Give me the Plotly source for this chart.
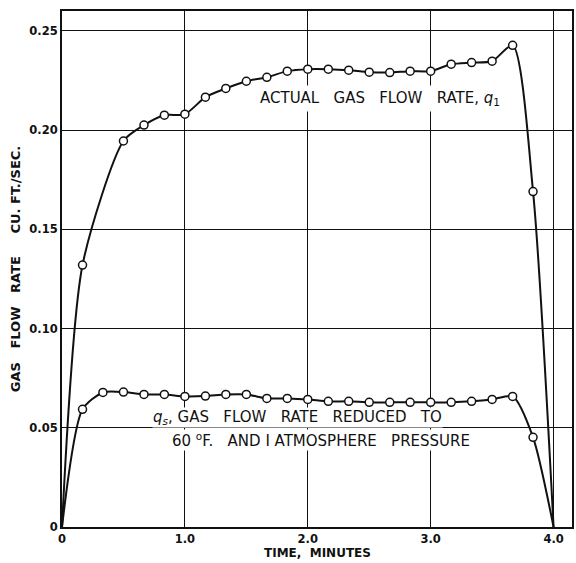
import plotly.graph_objects as go

# Readings taken every 10 seconds (time in minutes)
t_q1 = [0.167, 0.5, 0.667, 0.833, 1.0, 1.167, 1.333, 1.5, 1.667, 1.833, 2.0,
        2.167, 2.333, 2.5, 2.667, 2.833, 3.0, 3.167, 3.333, 3.5, 3.667, 3.833]
q1 = [0.132, 0.1945, 0.2025, 0.2075, 0.208, 0.2166, 0.221, 0.2246, 0.2266, 0.2297, 0.2307,
      0.2307, 0.2302, 0.2292, 0.229, 0.2297, 0.2297, 0.2332, 0.234, 0.2347, 0.2427, 0.169]

t_qs = [0.167, 0.333, 0.5, 0.667, 0.833, 1.0, 1.167, 1.333, 1.5, 1.667, 1.833, 2.0,
        2.167, 2.333, 2.5, 2.667, 2.833, 3.0, 3.167, 3.333, 3.5, 3.667, 3.833]
qs = [0.0593, 0.0678, 0.068, 0.0668, 0.0668, 0.0658, 0.066, 0.0668, 0.0668, 0.0648, 0.0648, 0.0643,
      0.0633, 0.0633, 0.0628, 0.0628, 0.0628, 0.0628, 0.0628, 0.0633, 0.0643, 0.0658, 0.0452]

# Flow is zero when the run starts and when it ends
t_start, t_end = 0.0, 4.0

x_ticks = [0, 1, 2, 3, 4]
x_tick_text = ["0", "1.0", "2.0", "3.0", "4.0"]
y_ticks = [0, 0.05, 0.10, 0.15, 0.20, 0.25]
y_tick_text = ["0", "0.05", "0.10", "0.15", "0.20", "0.25"]

FONT = "DejaVu Sans"
INK = "#111111"

fig = go.Figure()

for t, q in ((t_q1, q1), (t_qs, qs)):
    fig.add_trace(go.Scatter(
        x=[t_start] + t + [t_end], y=[0.0] + q + [0.0],
        mode="lines", line=dict(color=INK, width=2, shape="spline", smoothing=0.7),
        hoverinfo="skip", showlegend=False))
    fig.add_trace(go.Scatter(
        x=t, y=q, mode="markers",
        marker=dict(symbol="circle", size=8, color="white",
                    line=dict(color=INK, width=1.5)),
        showlegend=False))

label_font = dict(family=FONT, size=15, color=INK)
fig.add_annotation(x=2.59, y=0.216, xref="x", yref="y",
                   text="ACTUAL   GAS   FLOW   RATE, <i>q</i><sub>1</sub>",
                   showarrow=False, font=label_font, bgcolor="white", borderpad=3)
fig.add_annotation(x=1.92, y=0.0554, xref="x", yref="y",
                   text="<i>q<sub>s</sub></i>, GAS   FLOW   RATE   REDUCED   TO",
                   showarrow=False, font=label_font, bgcolor="white", borderpad=0)
fig.add_annotation(x=2.11, y=0.0440, xref="x", yref="y",
                   text="60 <sup>o</sup>F.   AND I ATMOSPHERE   PRESSURE",
                   showarrow=False, font=label_font, bgcolor="white", borderpad=0)

# x-axis title, set just under the tick labels
fig.add_annotation(x=0.5, y=0, xref="x domain", yref="y domain",
                   xanchor="center", yanchor="top", yshift=-18, borderpad=0,
                   text="<b>TIME,  MINUTES</b>", showarrow=False,
                   font=dict(family=FONT, size=12, color=INK))

axis_common = dict(showgrid=True, gridcolor=INK, gridwidth=1.2,
                   showline=True, linecolor=INK, linewidth=2, mirror=True,
                   ticks="", zeroline=False,
                   tickfont=dict(family=FONT, size=11.5, color=INK))

fig.update_xaxes(range=[0, 4.15], tickvals=x_ticks,
                 ticktext=["<b>%s</b>" % s for s in x_tick_text],
                 **axis_common)
fig.update_yaxes(range=[0, 0.26], tickvals=y_ticks,
                 ticktext=["<b>%s</b>" % s for s in y_tick_text],
                 title=dict(text="<b>GAS   FLOW   RATE     CU. FT./SEC.</b>",
                            font=dict(family=FONT, size=13, color=INK), standoff=6),
                 **axis_common)

fig.update_layout(width=576, height=563,
                  margin=dict(l=62, r=2, t=11, b=36),
                  paper_bgcolor="white", plot_bgcolor="white",
                  font=dict(family=FONT, color=INK))

fig.write_html("out.html")
